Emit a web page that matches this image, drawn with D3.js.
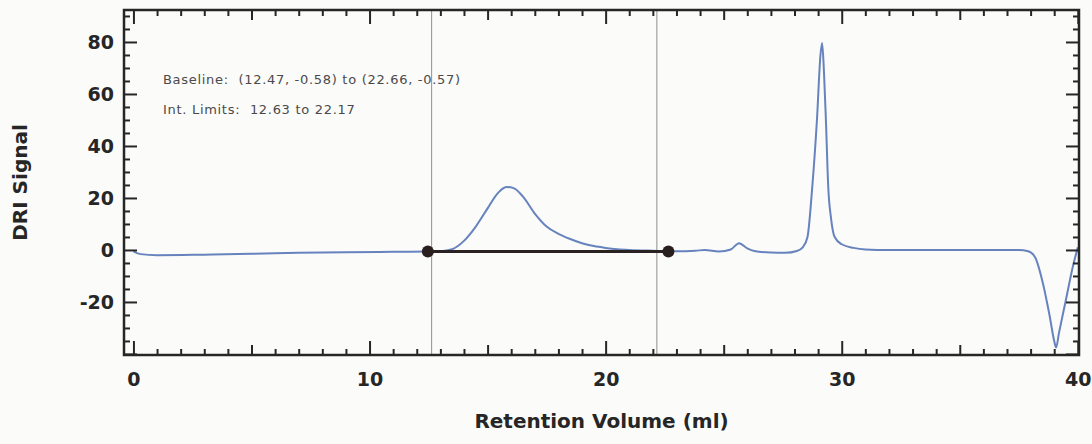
<!DOCTYPE html>
<html>
<head>
<meta charset="utf-8">
<script src="https://cdn.jsdelivr.net/npm/d3@7/dist/d3.min.js"></script>
<style>
  html, body { margin: 0; padding: 0; background: #fbfbfa; }
  svg { display: block; }
</style>
</head>
<body>
<svg id="chart" width="1092" height="444"></svg>
<script>
// DRI chromatogram: retention volume (ml) vs detector signal
const volume = [0.0, 0.3, 1.0, 3.0, 5.0, 7.0, 9.0, 11.0, 12.5, 13.0, 13.5, 14.0, 14.5, 15.0, 15.4, 15.8, 16.1, 16.5, 17.0, 17.5, 18.0, 18.5, 19.0, 19.5, 20.0, 20.5, 21.0, 22.0, 23.0, 23.8, 24.2, 24.8, 25.3, 25.65, 26.0, 26.3, 27.0, 27.6, 28.1, 28.35, 28.55, 28.75, 28.95, 29.1, 29.17, 29.25, 29.33, 29.43, 29.55, 29.7, 30.0, 30.5, 31.0, 32.0, 34.0, 36.0, 37.5, 37.9, 38.2, 38.5, 38.8, 39.0, 39.08, 39.2, 39.5, 39.8, 40.0];
const signal = [-0.5, -1.6, -2.0, -1.8, -1.5, -1.1, -0.9, -0.7, -0.6, -0.5, 0.3, 3.5, 9.0, 16.0, 21.5, 24.2, 23.8, 20.5, 14.0, 9.0, 6.2, 4.2, 2.6, 1.5, 0.8, 0.3, 0.0, -0.3, -0.5, -0.3, 0.0, -0.6, 0.2, 2.6, 0.6, -0.4, -1.0, -1.1, -0.4, 1.0, 5.0, 24.0, 50.0, 75.0, 79.6, 68.0, 50.0, 24.0, 12.0, 5.0, 2.2, 0.8, 0.2, 0.0, 0.0, 0.0, 0.0, -0.5, -3.0, -12.0, -25.0, -35.0, -37.5, -32.0, -19.0, -6.0, 1.0];

// integration baseline end points and limits
const baselineX = [12.47, 22.66];
const baselineY = [-0.58, -0.57];
const intLimits = [12.63, 22.17];

// tick values
const xLabelTicks = [0, 10, 20, 30, 40];
const yLabelTicks = [-20, 0, 20, 40, 60, 80];

const annotationLines = [
  "Baseline:  (12.47, -0.58) to (22.66, -0.57)",
  "Int. Limits:  12.63 to 22.17"
];

const W = 1092, H = 444;
const margin = { left: 124, top: 10, right: 13, bottom: 89 };
const x0 = margin.left, x1 = W - margin.right;
const y0 = margin.top, y1 = H - margin.bottom;

const x = d3.scaleLinear().domain([-0.4, 40.05]).range([x0, x1]);
const y = d3.scaleLinear().domain([-40.4, 92.3]).range([y1, y0]);

const svg = d3.select("#chart");
const ink = "#262626";
const labelFont = "'DejaVu Sans', Verdana, sans-serif";
const intFmt = d => String(Math.round(d)); // plain hyphen for negatives

// integration limit markers
svg.append("g").selectAll("line").data(intLimits).join("line")
  .attr("x1", d => x(d)).attr("x2", d => x(d))
  .attr("y1", y0).attr("y2", y1)
  .attr("stroke", "#8f8f8f").attr("stroke-width", 1);

// signal trace
const pts = volume.map((v, i) => [v, signal[i]]);
svg.append("defs").append("clipPath").attr("id", "plotClip")
  .append("rect").attr("x", x0).attr("y", y0).attr("width", x1 - x0).attr("height", y1 - y0);
svg.append("path")
  .datum(pts)
  .attr("clip-path", "url(#plotClip)")
  .attr("fill", "none")
  .attr("stroke", "#6683bd")
  .attr("stroke-width", 2)
  .attr("stroke-linejoin", "round")
  .attr("d", d3.line().x(d => x(d[0])).y(d => y(d[1])).curve(d3.curveMonotoneX));

// baseline segment with end points
const basePts = baselineX.map((v, i) => [v, baselineY[i]]);
svg.append("line")
  .attr("x1", x(basePts[0][0])).attr("y1", y(basePts[0][1]))
  .attr("x2", x(basePts[1][0])).attr("y2", y(basePts[1][1]))
  .attr("stroke", "#2a2222").attr("stroke-width", 3);
svg.append("g").selectAll("circle").data(basePts).join("circle")
  .attr("cx", d => x(d[0])).attr("cy", d => y(d[1])).attr("r", 6)
  .attr("fill", "#2a1f1f");

// inward ticks on all four sides
function ticksAlong(axisFn, scale, values, len, transform) {
  const g = svg.append("g").attr("transform", transform)
    .call(axisFn(scale).tickValues(values).tickSize(-len).tickFormat(""));
  g.select(".domain").remove();
  g.selectAll(".tick line").attr("stroke", ink).attr("stroke-width", 2);
}
const xMinor = d3.range(0, 41, 1).filter(v => v % 5 !== 0);
const xMid = [5, 15, 25, 35];
const yMinor = d3.range(-40, 91, 5).filter(v => v % 20 !== 0);
const yMajorAll = d3.range(-40, 91, 20);

[[d3.axisBottom, `translate(0,${y1})`], [d3.axisTop, `translate(0,${y0})`]].forEach(([fn, tr]) => {
  ticksAlong(fn, x, xMinor, 6, tr);
  ticksAlong(fn, x, xMid, 10, tr);
  ticksAlong(fn, x, xLabelTicks, 14, tr);
});
[[d3.axisLeft, `translate(${x0},0)`], [d3.axisRight, `translate(${x1},0)`]].forEach(([fn, tr]) => {
  ticksAlong(fn, y, yMinor, 6, tr);
  ticksAlong(fn, y, yMajorAll, 13, tr);
});

// frame
svg.append("rect")
  .attr("x", x0).attr("y", y0).attr("width", x1 - x0).attr("height", y1 - y0)
  .attr("fill", "none").attr("stroke", ink).attr("stroke-width", 2.5);

// tick labels
const xLab = svg.append("g").attr("transform", `translate(0,${y1})`)
  .call(d3.axisBottom(x).tickValues(xLabelTicks).tickSize(0).tickPadding(18).tickFormat(intFmt));
xLab.select(".domain").remove();
xLab.selectAll("text").attr("font-family", labelFont).attr("font-weight", "bold")
  .attr("font-size", 19).attr("fill", ink);

const yLab = svg.append("g").attr("transform", `translate(${x0},0)`)
  .call(d3.axisLeft(y).tickValues(yLabelTicks).tickSize(0).tickPadding(10).tickFormat(intFmt));
yLab.select(".domain").remove();
yLab.selectAll("text").attr("font-family", labelFont).attr("font-weight", "bold")
  .attr("font-size", 19).attr("fill", ink);

// axis titles
svg.append("text")
  .attr("x", (x0 + x1) / 2).attr("y", 428)
  .attr("text-anchor", "middle")
  .attr("font-family", labelFont).attr("font-weight", "bold").attr("font-size", 20)
  .attr("fill", ink)
  .text("Retention Volume (ml)");
svg.append("text")
  .attr("transform", `translate(27,${(y0 + y1) / 2}) rotate(-90)`)
  .attr("text-anchor", "middle")
  .attr("font-family", labelFont).attr("font-weight", "bold").attr("font-size", 20)
  .attr("fill", ink)
  .text("DRI Signal");

// integration annotation
svg.append("g").selectAll("text").data(annotationLines).join("text")
  .attr("x", 163).attr("y", (d, i) => 84 + i * 30)
  .attr("font-family", labelFont).attr("font-size", 13)
  .attr("letter-spacing", 0.7)
  .attr("fill", "#4a4a4a")
  .attr("xml:space", "preserve")
  .style("white-space", "pre")
  .text(d => d);
</script>
</body>
</html>
